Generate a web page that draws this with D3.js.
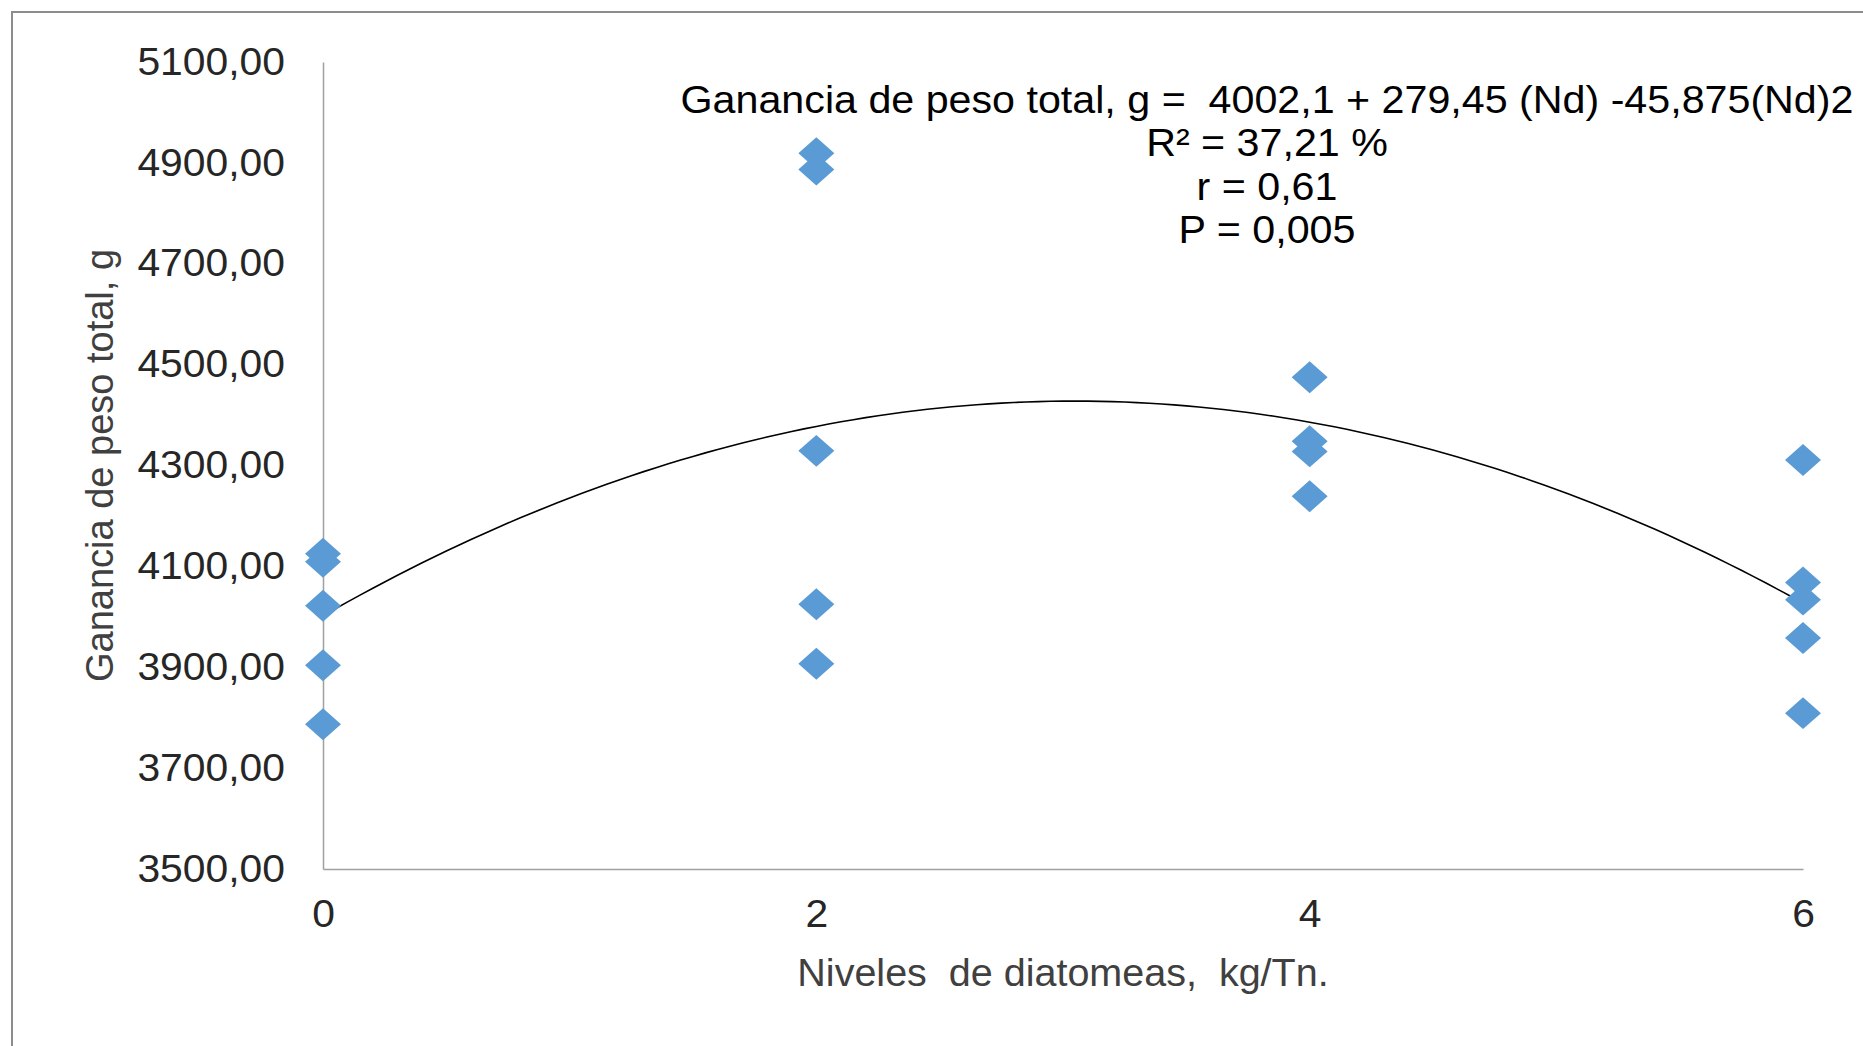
<!DOCTYPE html>
<html>
<head>
<meta charset="utf-8">
<script src="https://cdn.jsdelivr.net/npm/d3@7"></script>
<style>
  html, body { margin: 0; padding: 0; background: #fff; }
  text { font-family: "Liberation Sans", Arial, sans-serif; }
</style>
</head>
<body>
<div id="chart"></div>
<script>
// niveles de diatomeas (kg/Tn) y ganancia de peso total (g)
const levels = [0, 2, 4, 6];
const gain0 = [4125, 4109, 4022, 3904, 3787];
const gain2 = [4919, 4887, 4329, 4025, 3907];
const gain4 = [4475, 4348, 4328, 4239];
const gain6 = [4311, 4068, 4034, 3958, 3809];
const yTicks = [3500, 3700, 3900, 4100, 4300, 4500, 4700, 4900, 5100];
const xTicks = [0, 2, 4, 6];
// coeficientes de la ecuacion mostrada: a + b*Nd + c*Nd^2
const trendCoef = [4002.1, 279.45, -45.875];
const notes = [
  "Ganancia de peso total, g =  4002,1 + 279,45 (Nd) -45,875(Nd)2",
  "R\u00b2 = 37,21 %",
  "r = 0,61",
  "P = 0,005"
];

const width = 1863, height = 1046;
const fs = 38;
const stretch = 1.075; // el texto original esta algo ensanchado

const svg = d3.select("#chart").append("svg")
  .attr("width", width)
  .attr("height", height);

svg.append("rect")
  .attr("width", width).attr("height", height)
  .attr("fill", "#fff");

// marco del grafico (sale por la derecha y abajo)
svg.append("rect")
  .attr("x", 12).attr("y", 12)
  .attr("width", width + 20).attr("height", height + 20)
  .attr("fill", "none")
  .attr("stroke", "#8c8c8c")
  .attr("stroke-width", 2);

const x = d3.scaleLinear().domain([0, 6]).range([323, 1803]);
const y = d3.scaleLinear().domain([3500, 5100]).range([869, 62]);

const esFormat = d3.formatLocale({ decimal: ",", thousands: ".", grouping: [3], currency: ["", ""] }).format(".2f");

const yAxis = svg.append("g")
  .attr("transform", `translate(${x(0)},0)`)
  .call(d3.axisLeft(y).tickValues(yTicks).tickSize(0).tickSizeOuter(0).tickPadding(38).tickFormat(esFormat));

const xAxis = svg.append("g")
  .attr("transform", `translate(0,${y(3500)})`)
  .call(d3.axisBottom(x).tickValues(xTicks).tickSize(0).tickSizeOuter(0).tickPadding(31).tickFormat(d3.format("d")));

[yAxis, xAxis].forEach(g => {
  g.select(".domain").attr("stroke", "#a0a0a0").attr("stroke-width", 1.5);
  g.selectAll("text")
    .attr("font-family", "'Liberation Sans', Arial, sans-serif")
    .attr("font-size", fs)
    .attr("fill", "#262626");
});

yAxis.selectAll(".tick text")
  .attr("x", 0)
  .attr("transform", `translate(-38,0) scale(${stretch},1)`);
xAxis.selectAll(".tick text")
  .attr("transform", `scale(${stretch},1)`);

// titulos de ejes
svg.append("text")
  .attr("transform", `translate(113,${(y(3500) + y(5100)) / 2}) rotate(-90)`)
  .attr("text-anchor", "middle")
  .attr("font-size", fs)
  .attr("fill", "#404040")
  .text("Ganancia de peso total, g");

svg.append("text")
  .attr("transform", `translate(${(x(0) + x(6)) / 2},986) scale(1.04,1)`)
  .attr("text-anchor", "middle")
  .attr("font-size", fs)
  .attr("fill", "#404040")
  .style("white-space", "pre")
  .text("Niveles  de diatomeas,  kg/Tn.");

// linea de tendencia polinomica
const curveX = d3.range(0, 6.0001, 0.05);
const line = d3.line()
  .x(d => x(d))
  .y(d => y(trendCoef[0] + trendCoef[1] * d + trendCoef[2] * d * d));

svg.append("path")
  .datum(curveX)
  .attr("d", line)
  .attr("fill", "none")
  .attr("stroke", "#000")
  .attr("stroke-width", 1.6);

// puntos
const points = [];
[gain0, gain2, gain4, gain6].forEach((arr, i) => {
  arr.forEach(v => points.push({ nd: levels[i], g: v }));
});

const diamond = d3.symbol().type(d3.symbolSquare).size(24 * 24);

svg.append("g").selectAll("path")
  .data(points)
  .join("path")
  .attr("d", diamond)
  .attr("transform", d => `translate(${x(d.nd)},${y(d.g)}) scale(1.06,0.94) rotate(45)`)
  .attr("fill", "#5b9bd5");

// anotacion de la ecuacion
svg.append("g").selectAll("text")
  .data(notes)
  .join("text")
  .attr("transform", (d, i) => `translate(1267,${113 + i * 43.3}) scale(1.085,1)`)
  .attr("text-anchor", "middle")
  .attr("font-size", fs)
  .attr("fill", "#000")
  .style("white-space", "pre")
  .text(d => d);
</script>
</body>
</html>
